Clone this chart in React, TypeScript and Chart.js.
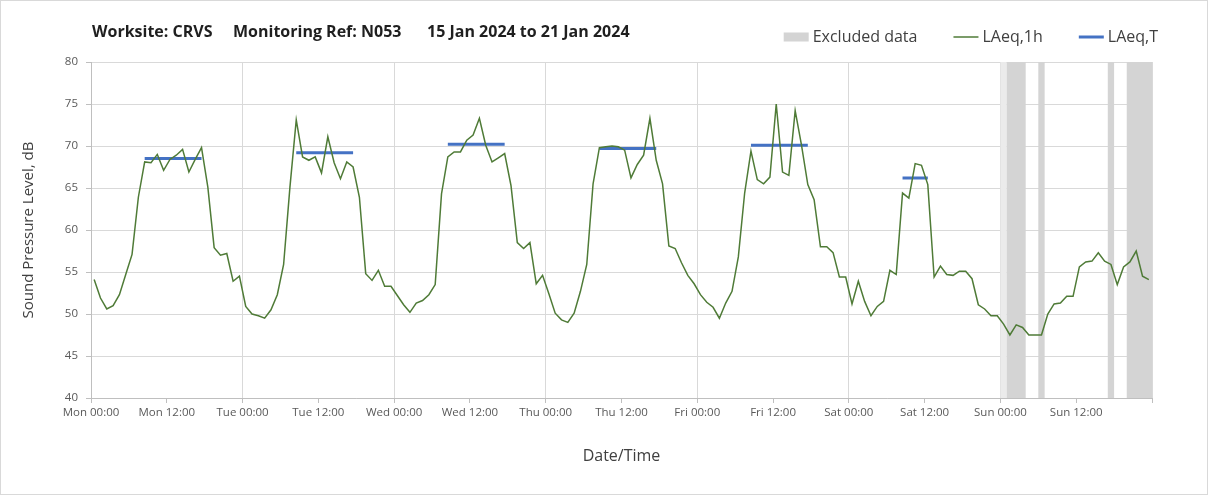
import React, { useEffect, useRef } from 'react';
import { Chart, registerables } from 'chart.js';

Chart.register(...registerables);

// ---------- DATA ----------
const TICK_LABELS = [
  'Mon 00:00', 'Mon 12:00', 'Tue 00:00', 'Tue 12:00', 'Wed 00:00', 'Wed 12:00',
  'Thu 00:00', 'Thu 12:00', 'Fri 00:00', 'Fri 12:00', 'Sat 00:00', 'Sat 12:00',
  'Sun 00:00', 'Sun 12:00', '',
];

const LAEQ_1H_MON = [54.1, 51.9, 50.6, 51.0, 52.3, 54.7, 57.1, 63.9, 68.1, 68.0, 69.0, 67.1, 68.4, 68.9, 69.6, 66.9, 68.4, 69.8, 65.1, 57.9, 57.0, 57.2, 53.9, 54.5];
const LAEQ_1H_TUE = [50.9, 50.0, 49.8, 49.5, 50.5, 52.3, 55.9, 65.1, 73.1, 68.7, 68.3, 68.7, 66.8, 71.1, 68.0, 66.1, 68.1, 67.5, 63.9, 54.8, 54.0, 55.2, 53.3, 53.3];
const LAEQ_1H_WED = [52.2, 51.1, 50.2, 51.3, 51.6, 52.3, 53.5, 64.3, 68.7, 69.3, 69.3, 70.7, 71.3, 73.3, 70.1, 68.1, 68.6, 69.1, 65.3, 58.5, 57.8, 58.5, 53.6, 54.6];
const LAEQ_1H_THU = [52.4, 50.1, 49.3, 49.0, 50.1, 52.7, 55.9, 65.5, 69.8, 69.9, 70.0, 69.9, 69.5, 66.2, 67.8, 68.9, 73.3, 68.3, 65.5, 58.1, 57.8, 56.1, 54.6, 53.6];
const LAEQ_1H_FRI = [52.3, 51.4, 50.8, 49.5, 51.3, 52.7, 56.8, 64.4, 69.4, 66.0, 65.5, 66.3, 75.0, 66.9, 66.5, 74.2, 70.1, 65.4, 63.6, 58.0, 58.0, 57.3, 54.4, 54.4];
const LAEQ_1H_SAT = [51.2, 53.9, 51.5, 49.8, 50.9, 51.5, 55.2, 54.7, 64.4, 63.8, 67.9, 67.7, 65.4, 54.4, 55.7, 54.7, 54.6, 55.1, 55.1, 54.2, 51.1, 50.6, 49.8, 49.8];
const LAEQ_1H_SUN = [48.8, 47.5, 48.7, 48.4, 47.5, 47.5, 47.5, 50.0, 51.2, 51.3, 52.1, 52.1, 55.6, 56.2, 56.3, 57.3, 56.3, 55.9, 53.5, 55.6, 56.2, 57.5, 54.5, 54.1];

const LAEQ_1H = [
  ...LAEQ_1H_MON, ...LAEQ_1H_TUE, ...LAEQ_1H_WED, ...LAEQ_1H_THU,
  ...LAEQ_1H_FRI, ...LAEQ_1H_SAT, ...LAEQ_1H_SUN,
];

// LAeq,T periods (hour index of first and last hourly value) and level
const LAEQ_T_FIRST_HOUR = [8, 32, 56, 80, 104, 128];
const LAEQ_T_LAST_HOUR = [17, 41, 65, 89, 113, 132];
const LAEQ_T_VALUES = [68.5, 69.2, 70.2, 69.7, 70.1, 66.2];

// Excluded data periods (hours from Mon 00:00)
const EXCLUDED_START = [145, 150, 161, 164];
const EXCLUDED_END = [148, 151, 162, 168];
const PARTIAL_EXCLUDED_START = [144];
const PARTIAL_EXCLUDED_END = [145];

const TITLE_PARTS = ['Worksite: CRVS', 'Monitoring Ref: N053', '15 Jan 2024 to 21 Jan 2024'];

// ---------- STYLE ----------
const FONT = '"Open Sans", "DejaVu Sans", sans-serif';
const GREEN = '#4f7b37';
const BLUE = '#4472c4';
const BAND = '#d4d4d4';
const BAND_LIGHT = '#ebebeb';

const lineData = LAEQ_1H.map((v, i) => ({ x: i + 0.5, y: v }));
const tData: ({ x: number; y: number | null })[] = [];
LAEQ_T_VALUES.forEach((v, i) => {
  tData.push({ x: LAEQ_T_FIRST_HOUR[i] + 0.5, y: v });
  tData.push({ x: LAEQ_T_LAST_HOUR[i] + 0.5, y: v });
  tData.push({ x: LAEQ_T_LAST_HOUR[i] + 1, y: null });
});

const bandsPlugin = {
  id: 'bands',
  beforeDatasetsDraw(chart: any) {
    const { ctx, scales } = chart;
    const x = scales.x, y = scales.y;
    const top = y.getPixelForValue(80);
    const bottom = y.getPixelForValue(40);
    ctx.save();
    const draw = (s: number[], e: number[], color: string) => {
      ctx.fillStyle = color;
      s.forEach((st, i) => {
        const x1 = x.getPixelForValue(st);
        const x2 = x.getPixelForValue(e[i]);
        ctx.fillRect(x1, top, x2 - x1, bottom - top);
      });
    };
    draw(PARTIAL_EXCLUDED_START, PARTIAL_EXCLUDED_END, BAND_LIGHT);
    draw(EXCLUDED_START, EXCLUDED_END, BAND);
    ctx.restore();
  },
};

const headerPlugin = {
  id: 'header',
  afterDraw(chart: any) {
    const { ctx } = chart;
    ctx.save();
    ctx.textBaseline = 'middle';
    // title
    ctx.font = `bold 16px ${FONT}`;
    ctx.fillStyle = '#1f1f1f';
    const titleX = [92, 233, 427];
    TITLE_PARTS.forEach((t, i) => ctx.fillText(t, titleX[i], 32));
    // legend
    ctx.font = `16px ${FONT}`;
    const items = [
      { label: 'Excluded data', kind: 'box', color: BAND },
      { label: chart.data.datasets[0].label, kind: 'line', color: GREEN, w: 1.5 },
      { label: chart.data.datasets[1].label, kind: 'line', color: BLUE, w: 3 },
    ];
    const symW = 25, symGap = 4, itemGap = 36, right = 1158, cy = 37;
    const widths = items.map((it) => symW + symGap + ctx.measureText(it.label).width);
    const total = widths.reduce((a, b) => a + b, 0) + itemGap * (items.length - 1);
    let x = right - total;
    items.forEach((it: any, i) => {
      if (it.kind === 'box') {
        ctx.fillStyle = it.color;
        ctx.fillRect(x, cy - 4.5, symW, 9);
      } else {
        ctx.strokeStyle = it.color;
        ctx.lineWidth = it.w;
        ctx.beginPath();
        ctx.moveTo(x, cy);
        ctx.lineTo(x + symW, cy);
        ctx.stroke();
      }
      ctx.fillStyle = '#404040';
      ctx.fillText(it.label, x + symW + symGap, cy);
      x += widths[i] + itemGap;
    });
    ctx.restore();
  },
};

export default function App() {
  const ref = useRef<HTMLCanvasElement | null>(null);
  useEffect(() => {
    if (!ref.current) return;
    const chart = new Chart(ref.current, {
      type: 'line',
      data: {
        datasets: [
          {
            label: 'LAeq,1h',
            data: lineData,
            borderColor: GREEN,
            borderWidth: 1.5,
            pointRadius: 0,
            tension: 0,
            fill: false,
          },
          {
            label: 'LAeq,T',
            data: tData,
            borderColor: BLUE,
            borderWidth: 3,
            pointRadius: 0,
            spanGaps: false,
            fill: false,
          },
        ],
      },
      options: {
        animation: false,
        responsive: true,
        maintainAspectRatio: false,
        parsing: false as any,
        layout: { padding: { top: 62, right: 56, left: 0, bottom: 0 } },
        plugins: {
          legend: { display: false },
          title: { display: false },
          tooltip: { enabled: false },
        },
        scales: {
          x: {
            type: 'linear',
            min: 0,
            max: 168,
            afterFit: (s: any) => { s.height = 97; },
            ticks: {
              stepSize: 12,
              autoSkip: false,
              maxRotation: 0,
              padding: 3,
              color: '#595959',
              font: { family: FONT, size: 11.5 },
              callback: (v: any) => TICK_LABELS[Math.round(Number(v) / 12)] ?? '',
            },
            grid: {
              color: (c: any) => (c.tick && c.tick.value % 24 === 0 ? '#d9d9d9' : 'rgba(0,0,0,0)'),
              tickColor: '#bfbfbf',
              tickLength: 5,
              lineWidth: 1,
            },
            border: { color: '#bfbfbf', width: 1 },
            title: {
              display: true,
              text: 'Date/Time',
              color: '#404040',
              font: { family: FONT, size: 16 },
              padding: { top: 0, bottom: 29 },
            },
          },
          y: {
            type: 'linear',
            min: 40,
            max: 80,
            afterFit: (s: any) => { s.width = 91; },
            ticks: {
              stepSize: 5,
              padding: 8,
              color: '#595959',
              font: { family: FONT, size: 11.5 },
            },
            grid: {
              color: '#d9d9d9',
              tickColor: '#bfbfbf',
              tickLength: 5,
              lineWidth: 1,
            },
            border: { color: '#bfbfbf', width: 1 },
            title: {
              display: true,
              text: 'Sound Pressure Level, dB',
              color: '#404040',
              font: { family: FONT, size: 15 },
              padding: { top: 20, bottom: 0 },
            },
          },
        },
      },
      plugins: [bandsPlugin, headerPlugin],
    } as any);
    return () => chart.destroy();
  }, []);

  return (
    <div style={{ position: 'fixed', left: 0, top: 0, width: 1208, height: 495, background: '#fff' }}>
      <canvas ref={ref} />
      <div
        style={{
          position: 'absolute', left: 0, top: 0, width: 1208, height: 495,
          boxSizing: 'border-box', border: '1px solid #d9d9d9', pointerEvents: 'none',
        }}
      />
    </div>
  );
}
